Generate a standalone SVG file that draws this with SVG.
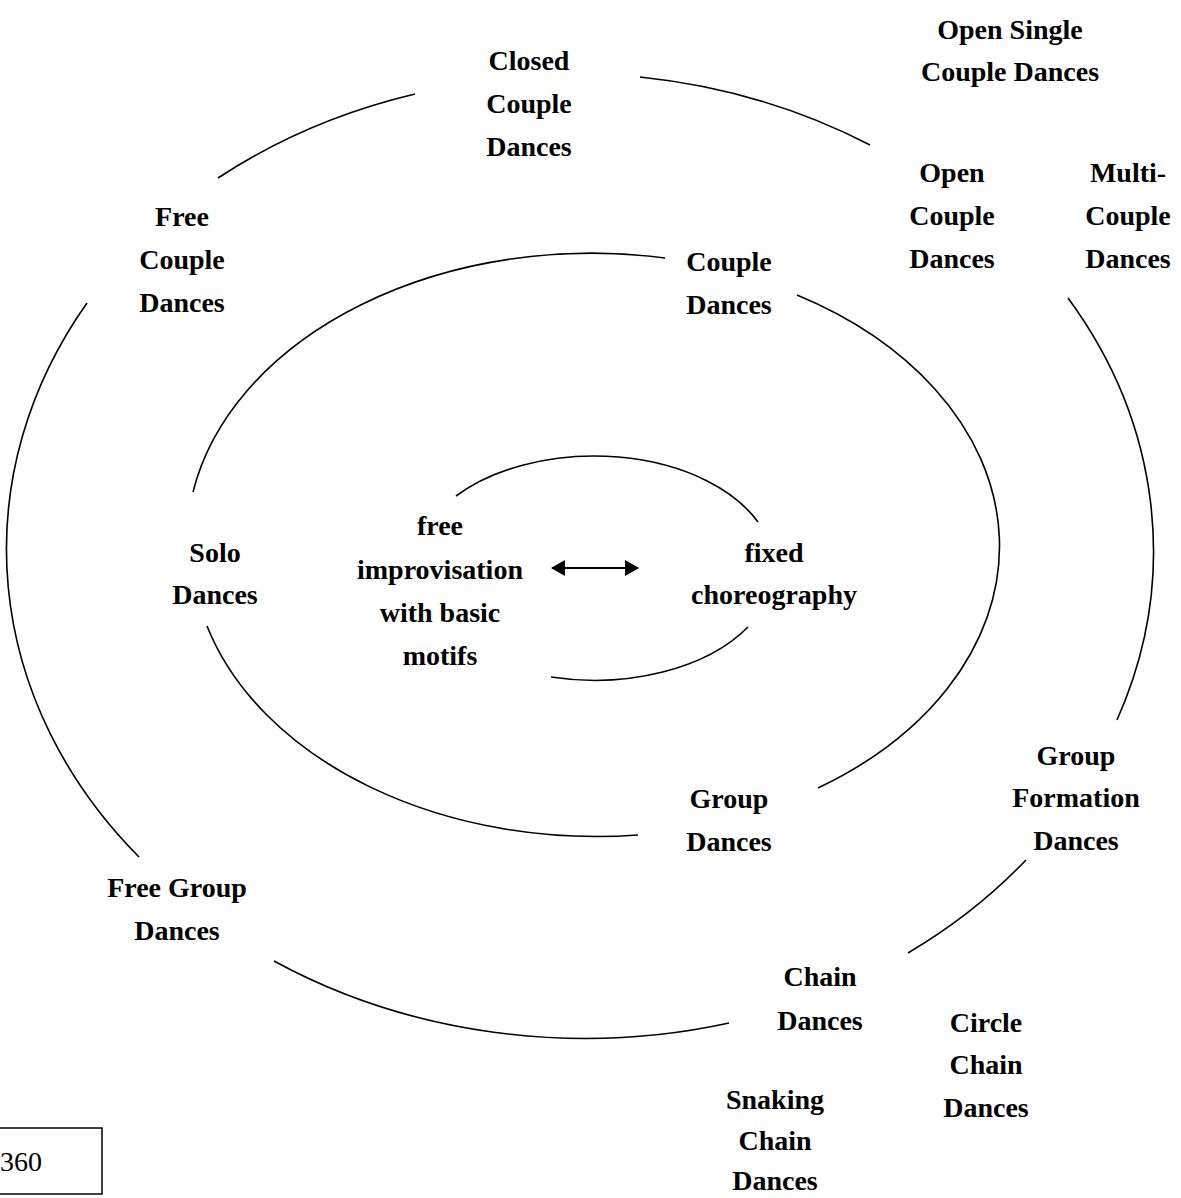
<svg xmlns="http://www.w3.org/2000/svg" width="1181" height="1198" viewBox="0 0 1181 1198">
<style>
.t{font-family:"Liberation Serif","Times New Roman",serif;font-weight:bold;font-size:28px;text-anchor:middle;fill:#000}
.r{fill:none;stroke:#000;stroke-width:1.6}
.a{fill:none;stroke:#000;stroke-width:2}
</style>
<defs>
<marker id="ah" viewBox="0 0 14 16" refX="13" refY="8" markerWidth="14" markerHeight="16" markerUnits="userSpaceOnUse" orient="auto-start-reverse">
<path d="M0,0 L14,8 L0,16 z" fill="#000"/>
</marker>
</defs>
<rect width="1181" height="1198" fill="#fff"/>
<g id="rings">
<path class="r" d="M456,496 A180,112 0 0,1 758,522"/>
<path class="r" d="M551,677 A180,112 0 0,0 748,627"/>
<path class="r" d="M665,258 A405,290 0 0,0 193,492"/>
<path class="r" d="M797,295 A405,290 0 0,1 818,788"/>
<path class="r" d="M207,626 A405,290 0 0,0 638,835"/>
<path class="r" d="M218,178 A572,481 0 0,1 415,94"/>
<path class="r" d="M640,77 A572,481 0 0,1 870,145"/>
<path class="r" d="M1068,298 A572,481 0 0,1 1117,720"/>
<path class="r" d="M1026,860 A572,481 0 0,1 908,953"/>
<path class="r" d="M729,1023 A572,481 0 0,1 274,961"/>
<path class="r" d="M139,857 A572,481 0 0,1 87,303"/>
</g>
<g id="connectors">
<line class="a" x1="552" y1="568" x2="638" y2="568" marker-start="url(#ah)" marker-end="url(#ah)"/>
</g>
<g id="closed-couple"><text class="t" x="529" y="70">Closed</text><text class="t" x="529" y="113">Couple</text><text class="t" x="529" y="156">Dances</text></g>
<g id="open-single"><text class="t" x="1010" y="39">Open Single</text><text class="t" x="1010" y="81">Couple Dances</text></g>
<g id="free-couple"><text class="t" x="182" y="226">Free</text><text class="t" x="182" y="269">Couple</text><text class="t" x="182" y="312">Dances</text></g>
<g id="couple"><text class="t" x="729" y="271">Couple</text><text class="t" x="729" y="314">Dances</text></g>
<g id="open-couple"><text class="t" x="952" y="182">Open</text><text class="t" x="952" y="225">Couple</text><text class="t" x="952" y="268">Dances</text></g>
<g id="multi-couple"><text class="t" x="1128" y="182">Multi-</text><text class="t" x="1128" y="225">Couple</text><text class="t" x="1128" y="268">Dances</text></g>
<g id="solo"><text class="t" x="215" y="562">Solo</text><text class="t" x="215" y="604">Dances</text></g>
<g id="free-improv"><text class="t" x="440" y="535">free</text><text class="t" x="440" y="579">improvisation</text><text class="t" x="440" y="622">with basic</text><text class="t" x="440" y="665">motifs</text></g>
<g id="fixed"><text class="t" x="774" y="562">fixed</text><text class="t" x="774" y="604">choreography</text></g>
<g id="group"><text class="t" x="729" y="808">Group</text><text class="t" x="729" y="851">Dances</text></g>
<g id="group-formation"><text class="t" x="1076" y="765">Group</text><text class="t" x="1076" y="807">Formation</text><text class="t" x="1076" y="850">Dances</text></g>
<g id="free-group"><text class="t" x="177" y="897">Free Group</text><text class="t" x="177" y="940">Dances</text></g>
<g id="chain"><text class="t" x="820" y="986">Chain</text><text class="t" x="820" y="1030">Dances</text></g>
<g id="circle-chain"><text class="t" x="986" y="1032">Circle</text><text class="t" x="986" y="1074">Chain</text><text class="t" x="986" y="1117">Dances</text></g>
<g id="snaking-chain"><text class="t" x="775" y="1109">Snaking</text><text class="t" x="775" y="1150">Chain</text><text class="t" x="775" y="1190">Dances</text></g>
<g id="page-number"><rect x="-20" y="1128" width="122" height="66" fill="none" stroke="#000" stroke-width="1.5"/><text x="0" y="1171" style="font-family:'Liberation Serif','Times New Roman',serif;font-size:28px;fill:#000">360</text></g>
</svg>
